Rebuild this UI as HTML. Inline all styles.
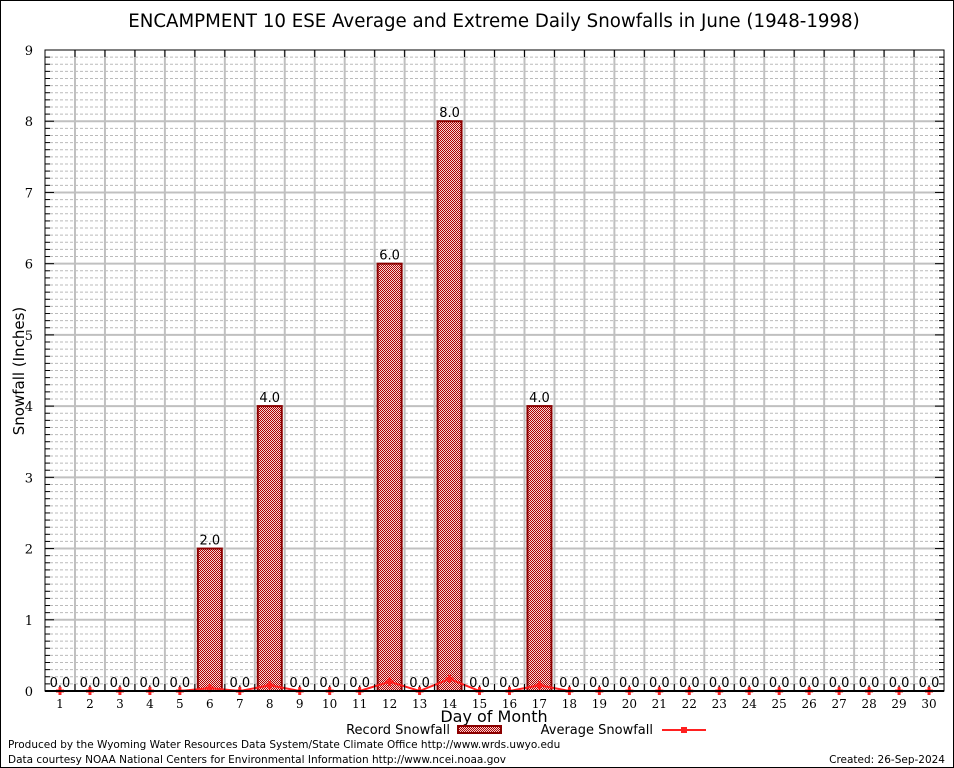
<!DOCTYPE html>
<html><head><meta charset="utf-8"><style>
html,body{margin:0;padding:0;background:#fff}
svg{display:block}
text{font-family:"DejaVu Sans","Liberation Sans",sans-serif}
.serif{font-family:"DejaVu Serif","Liberation Serif",serif}
</style></head><body>
<svg id="chart" width="954" height="768" viewBox="0 0 954 768" xmlns="http://www.w3.org/2000/svg">
<defs>
<pattern id="chk" width="2" height="2" patternUnits="userSpaceOnUse">
<rect width="2" height="2" fill="#f4d8d8"/><rect width="1" height="1" fill="#b00000"/><rect x="1" y="1" width="1" height="1" fill="#b00000"/>
</pattern>
</defs>
<rect x="0.5" y="0.5" width="953" height="767" fill="#fff" stroke="#000"/>
<text x="494" y="27" font-size="18.2" text-anchor="middle">ENCAMPMENT 10 ESE Average and Extreme Daily Snowfalls in June (1948-1998)</text>
<g id="grid"></g>
<g id="bars"></g>
<g id="avg"></g>
<g id="axes"></g>
<text transform="translate(24,371) rotate(-90)" font-size="15" text-anchor="middle">Snowfall (Inches)</text>
<text x="494" y="722" font-size="16" text-anchor="middle">Day of Month</text>
<g>
<text x="450" y="734" font-size="13" text-anchor="end">Record Snowfall</text>
<rect x="458" y="726" width="43" height="7" fill="url(#chk)" stroke="#8b0000" stroke-width="2"/>
</g>
<g>
<text x="653" y="734" font-size="13" text-anchor="end">Average Snowfall</text>
<line x1="662" y1="730" x2="706" y2="730" stroke="#ff2020" stroke-width="2"/>
<rect x="681" y="727" width="6" height="6" fill="#ff2020"/>
</g>
<text x="8" y="748" font-size="10.5">Produced by the Wyoming Water Resources Data System/State Climate Office http://www.wrds.uwyo.edu</text>
<text x="8" y="763" font-size="10.5">Data courtesy NOAA National Centers for Environmental Information http://www.ncei.noaa.gov</text>
<text x="945" y="763" font-size="10.5" text-anchor="end">Created: 26-Sep-2024</text>
</svg>
<script>
const days = [1,2,3,4,5,6,7,8,9,10,11,12,13,14,15,16,17,18,19,20,21,22,23,24,25,26,27,28,29,30];
const recordSnow = [0,0,0,0,0,2,0,4,0,0,0,6,0,8,0,0,4,0,0,0,0,0,0,0,0,0,0,0,0,0];
const avgSnow = [0,0,0,0,0,0.04,0,0.08,0,0,0,0.13,0,0.17,0,0,0.08,0,0,0,0,0,0,0,0,0,0,0,0,0];
const yTicks = [0,1,2,3,4,5,6,7,8,9];

const L=45,R=944,T=50,B=691,yMax=9;
const x=d=>L+(d-0.5)*(R-L)/30;
const y=v=>B-v*(B-T)/yMax;
const NS="http://www.w3.org/2000/svg";
function mk(tag,attrs,parent){const e=document.createElementNS(NS,tag);for(const k in attrs)e.setAttribute(k,attrs[k]);parent.appendChild(e);return e;}
const grid=document.getElementById('grid'),bars=document.getElementById('bars'),avg=document.getElementById('avg'),axes=document.getElementById('axes');

for(let i=1;i<yMax*10;i++){ if(i%10===0) continue;
  const l=mk('line',{x1:L,x2:R,y1:y(i/10),y2:y(i/10),stroke:'#bbb','stroke-dasharray':'3,2','stroke-width':1},grid);
  
  
  mk('line',{x1:L,x2:L+5,y1:y(i/10),y2:y(i/10),stroke:'#000'},axes);
  mk('line',{x1:R,x2:R-5,y1:y(i/10),y2:y(i/10),stroke:'#000'},axes);
}
yTicks.forEach(v=>{
  if(v>0&&v<yMax){const l=mk('line',{x1:L,x2:R,y1:y(v),y2:y(v),stroke:'#c0c0c0','stroke-width':2},grid);
  
  }
  mk('line',{x1:L,x2:L+9,y1:y(v),y2:y(v),stroke:'#000'},axes);
  mk('line',{x1:R,x2:R-9,y1:y(v),y2:y(v),stroke:'#000'},axes);
  const t=mk('text',{x:L-12,y:y(v)+5,'font-size':13,'text-anchor':'end',class:'serif'},axes);t.textContent=v;
  
  
});
for(let d=1;d<30;d++){
  const xv=x(d)+15;
  const l=mk('line',{x1:xv,x2:xv,y1:T,y2:B,stroke:'#c0c0c0','stroke-width':2},grid);
  
  
  mk('line',{x1:xv,x2:xv,y1:T,y2:T+7,stroke:'#000'},axes);
  mk('line',{x1:xv,x2:xv,y1:B,y2:B-7,stroke:'#000'},axes);
}
days.forEach((d,i)=>{
  const v=recordSnow[i];
  if(v>0){const r=mk('rect',{x:x(d)-12,y:y(v),width:24,height:B-y(v),fill:'url(#chk)',stroke:'#8b0000','stroke-width':2},bars);
  
  }
  const t=mk('text',{x:x(d),y:y(v)-4,'font-size':13,'text-anchor':'middle'},bars);t.textContent=v.toFixed(1);
  
  
  const tl=mk('text',{x:x(d),y:B+17,'font-size':12,'text-anchor':'middle',class:'serif'},axes);tl.textContent=d;
  
  
});
mk('rect',{x:L,y:T,width:R-L,height:B-T,fill:'none',stroke:'#000','stroke-width':1},axes);
mk('line',{x1:L,x2:R,y1:B,y2:B,stroke:'#000','stroke-width':2},axes);
const pts=days.map((d,i)=>x(d)+','+y(avgSnow[i])).join(' ');
const pl=mk('polyline',{points:pts,fill:'none',stroke:'#ff2020','stroke-width':2},avg);


days.forEach((d,i)=>{
  const m=mk('path',{d:`M${x(d)-4},${y(avgSnow[i])}h8M${x(d)},${y(avgSnow[i])-4}v8`,stroke:'#ff2020','stroke-width':3},avg);
  
  
});
</script>
</body></html>
